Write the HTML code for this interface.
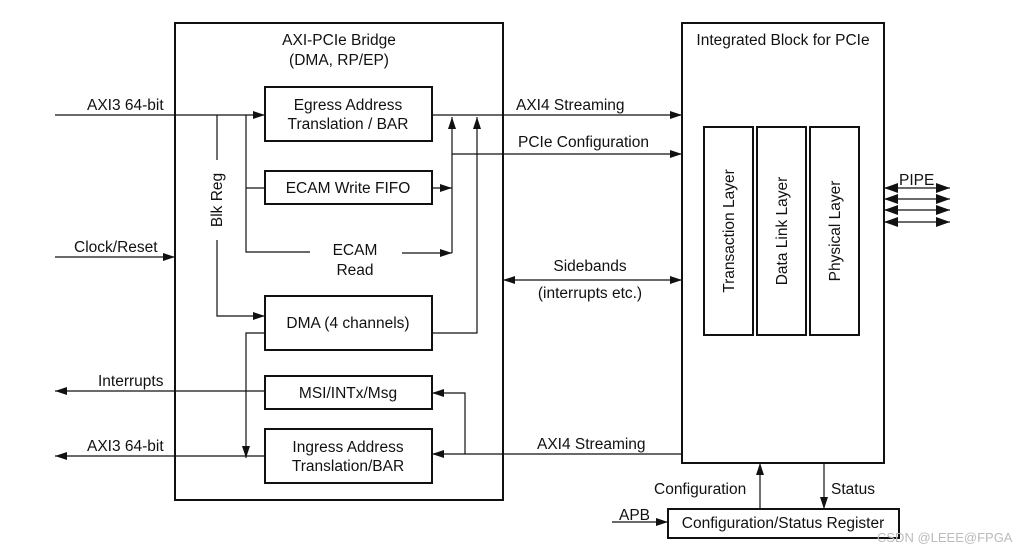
<!DOCTYPE html>
<html><head><meta charset="utf-8"><style>
html,body{margin:0;padding:0;background:#fff;}
svg text{font-family:"Liberation Sans",Arial,sans-serif;font-size:15.5px;fill:#111;}
</style></head><body>
<svg width="1026" height="552" viewBox="0 0 1026 552" xmlns="http://www.w3.org/2000/svg">
<defs>
<marker id="a" viewBox="0 0 12 8" refX="12" refY="4" markerWidth="12" markerHeight="8" markerUnits="userSpaceOnUse" orient="auto-start-reverse"><path d="M0,0L12,4L0,8z" fill="#111"/></marker>
<marker id="b" viewBox="0 0 14 10" refX="14" refY="5" markerWidth="14" markerHeight="10" markerUnits="userSpaceOnUse" orient="auto-start-reverse"><path d="M0,0L14,5L0,10z" fill="#111"/></marker>
</defs>
<g fill="none" stroke="#111">
<rect x="175" y="23" width="328" height="477" stroke-width="2"/>
<rect x="682" y="23" width="202" height="440" stroke-width="2"/>
<rect x="704" y="127" width="49" height="208" stroke-width="2"/>
<rect x="757" y="127" width="49" height="208" stroke-width="2"/>
<rect x="810" y="127" width="49" height="208" stroke-width="2"/>
<rect x="265" y="87" width="167" height="54" stroke-width="2"/>
<rect x="265" y="171" width="167" height="33" stroke-width="2"/>
<rect x="265" y="296" width="167" height="54" stroke-width="2"/>
<rect x="265" y="376" width="167" height="33" stroke-width="2"/>
<rect x="265" y="429" width="167" height="54" stroke-width="2"/>
<rect x="668" y="509" width="231" height="29" stroke-width="2"/>
<g stroke-width="1.2">
<path d="M55,115H265" marker-end="url(#a)"/>
<path d="M217,115V160M217,240V316H265" marker-end="url(#a)"/>
<path d="M246,115V252H310"/>
<path d="M246,188H265"/>
<path d="M402,253H452" marker-end="url(#a)"/>
<path d="M432,188H452" marker-end="url(#a)"/>
<path d="M452,253V117" marker-end="url(#a)"/>
<path d="M452,154H682" marker-end="url(#a)"/>
<path d="M432,333H477V117" marker-end="url(#a)"/>
<path d="M432,115H682" marker-end="url(#a)"/>
<path d="M55,257H175" marker-end="url(#a)"/>
<path d="M503,280H682" marker-start="url(#a)" marker-end="url(#a)"/>
<path d="M265,391H55" marker-end="url(#a)"/>
<path d="M265,333H246V458" marker-end="url(#a)"/>
<path d="M265,456H55" marker-end="url(#a)"/>
<path d="M682,454H432" marker-end="url(#a)"/>
<path d="M465,454V393H432" marker-end="url(#a)"/>
<path d="M884,188H950" marker-start="url(#b)" marker-end="url(#b)"/>
<path d="M884,199H950" marker-start="url(#b)" marker-end="url(#b)"/>
<path d="M884,210H950" marker-start="url(#b)" marker-end="url(#b)"/>
<path d="M884,222H950" marker-start="url(#b)" marker-end="url(#b)"/>
<path d="M760,509V463" marker-end="url(#a)"/>
<path d="M824,463V509" marker-end="url(#a)"/>
<path d="M612,522H668" marker-end="url(#a)"/>
</g>
</g>
<g text-anchor="middle">
<text x="339" y="45">AXI-PCIe Bridge</text>
<text x="339" y="65">(DMA, RP/EP)</text>
<text x="348" y="110">Egress Address</text>
<text x="348" y="129">Translation / BAR</text>
<text x="348" y="193">ECAM Write FIFO</text>
<text x="355" y="255">ECAM</text>
<text x="355" y="275">Read</text>
<text x="348" y="328">DMA (4 channels)</text>
<text x="348" y="398">MSI/INTx/Msg</text>
<text x="348" y="452">Ingress Address</text>
<text x="348" y="471">Translation/BAR</text>
<text x="783" y="45">Integrated Block for PCIe</text>
<text x="783" y="528">Configuration/Status Register</text>
<text transform="translate(734,231) rotate(-90)">Transaction Layer</text>
<text transform="translate(787,231) rotate(-90)">Data Link Layer</text>
<text transform="translate(840,231) rotate(-90)">Physical Layer</text>
<text transform="translate(222,200) rotate(-90)">Blk Reg</text>
<text x="590" y="271">Sidebands</text>
<text x="590" y="298">(interrupts etc.)</text>
</g>
<text x="87" y="110">AXI3 64-bit</text>
<text x="74" y="252">Clock/Reset</text>
<text x="98" y="386">Interrupts</text>
<text x="87" y="451">AXI3 64-bit</text>
<text x="516" y="110">AXI4 Streaming</text>
<text x="518" y="147">PCIe Configuration</text>
<text x="537" y="449">AXI4 Streaming</text>
<text x="899" y="185">PIPE</text>
<text x="654" y="494">Configuration</text>
<text x="831" y="494">Status</text>
<text x="619" y="520">APB</text>
<text x="877" y="542" style="font-size:13px;fill:#bbb">CSDN @LEEE@FPGA</text>
</svg>
</body></html>
